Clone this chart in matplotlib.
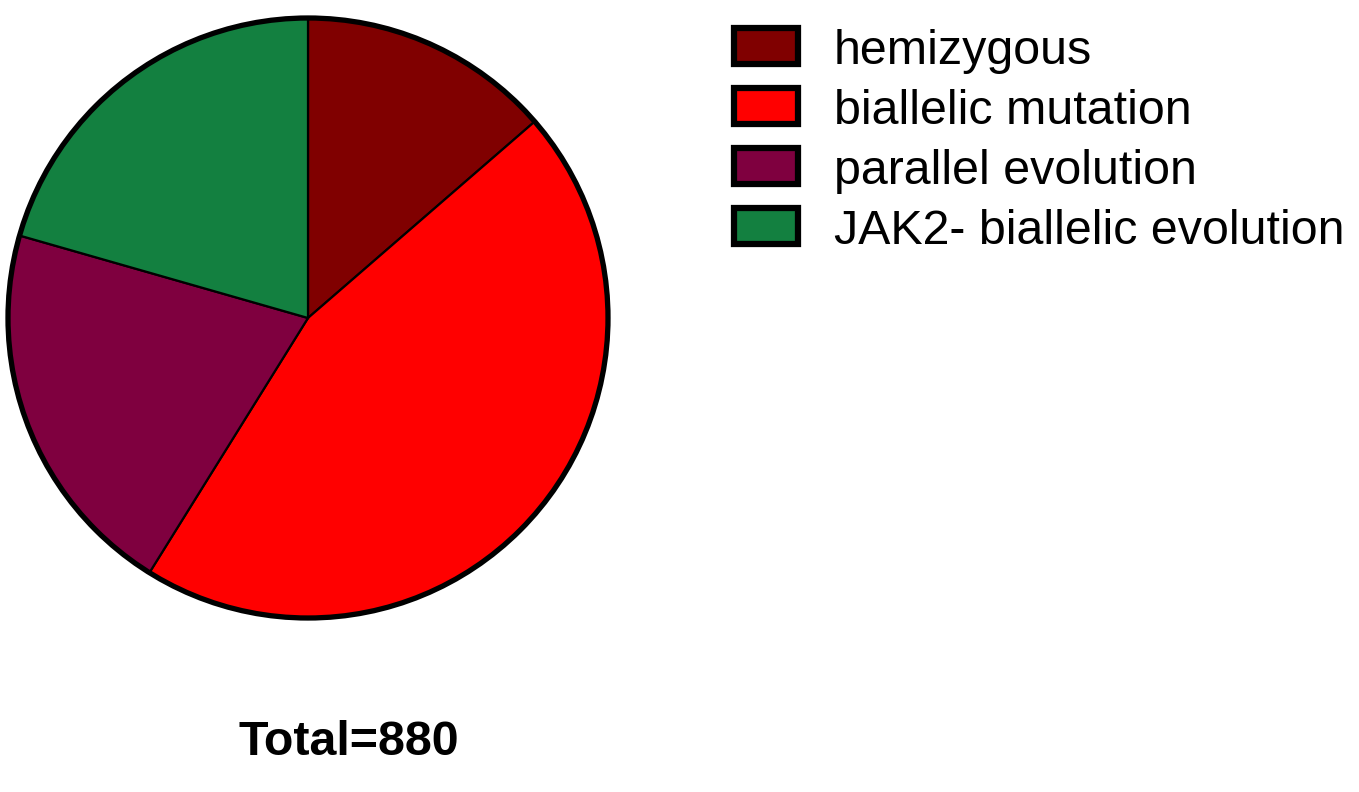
import matplotlib
matplotlib.use("Agg")
import matplotlib.pyplot as plt
from matplotlib.patches import Rectangle, Circle

categories = ["hemizygous", "biallelic mutation", "parallel evolution", "JAK2- biallelic evolution"]
values = [120, 398, 181, 181]
colors = ["#800000", "#FF0000", "#7F003F", "#138040"]
total_label = "Total=880"

W, H = 1359, 792
fig = plt.figure(figsize=(W / 100, H / 100), dpi=100)
plt.rcParams['font.family'] = ['Liberation Sans', 'DejaVu Sans']

cx, cy, r = 308, 318, 300
ax = fig.add_axes([0, 0, 1, 1])
ax.pie(values, colors=colors, startangle=90, counterclock=False, radius=1,
       wedgeprops=dict(edgecolor='black', linewidth=1.6))
ax.add_patch(Circle((0, 0), 1, fill=False, edgecolor='black', linewidth=3.8, zorder=5))
ax.set_xlim(-1.02, 1.02)
ax.set_ylim(-1.02, 1.02)
ax.set_position([(cx - r * 1.02) / W, (H - cy - r * 1.02) / H, 2 * r * 1.02 / W, 2 * r * 1.02 / H])
ax.set_aspect('equal')
ax.axis('off')

# Legend drawn manually in figure pixel coordinates
row0, step = 45.5, 60.2
for i, (lab, col) in enumerate(zip(categories, colors)):
    yc = row0 + i * step
    bw, bh = 64, 36
    rect = Rectangle(((766 - bw / 2) / W, (H - yc - bh / 2) / H), bw / W, bh / H,
                     transform=fig.transFigure, facecolor=col, edgecolor='black',
                     linewidth=4.5)
    fig.add_artist(rect)
    fig.text(834 / W, (H - yc - 18) / H, lab, fontsize=34.8, va='baseline', ha='left')

fig.text(349 / W, (H - 755) / H, total_label, fontsize=34.8, fontweight='bold',
         va='baseline', ha='center')

fig.savefig("out.png", dpi=100)
